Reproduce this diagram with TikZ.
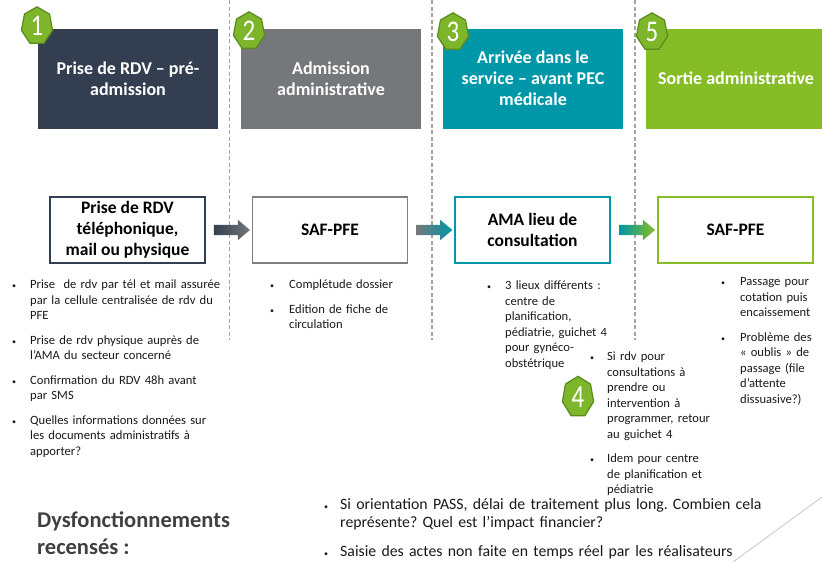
\documentclass[tikz,border=0pt]{standalone}
\usepackage{fontspec}
\setmainfont{Carlito}
\usepackage{enumitem}
\usetikzlibrary{shapes.geometric, shapes.arrows, calc, positioning}

\definecolor{navyHdr}{HTML}{333F50}
\definecolor{grayHdr}{HTML}{75777A}
\definecolor{grayEdge}{HTML}{7F7F7F}
\definecolor{tealHdr}{HTML}{0097A8}
\definecolor{greenHdr}{HTML}{86BC25}
\definecolor{badgeFill}{HTML}{7DB52B}
\definecolor{badgeLine}{HTML}{5A8A1C}
\definecolor{sepGray}{HTML}{A3A3A3}
\definecolor{titleGray}{HTML}{404040}

\setlist[itemize]{label={\fontsize{8}{8}\selectfont\textbullet}, leftmargin=21pt, labelsep=14pt, topsep=0pt, partopsep=0pt, parsep=0pt, itemsep=9pt}

\tikzset{
    hdrBox/.style={rectangle, fill=#1, text=white, align=center, minimum width=180pt, minimum height=100pt, inner sep=0pt, font=\bfseries\fontsize{18}{21}\selectfont},
    stepBox/.style={rectangle, draw=#1, line width=1.6pt, fill=white, align=center, minimum width=155pt, minimum height=66pt, inner sep=0pt, font=\bfseries\fontsize{17.5}{21}\selectfont},
    badge/.style={regular polygon, regular polygon sides=7, fill=badgeFill, draw=badgeLine, line width=1.2pt, minimum size=32pt, inner sep=0pt, text=white, font=\fontsize{25}{25}\selectfont, yscale=1.2, transform shape},
    flowArrow/.style 2 args={single arrow, left color=#1, right color=#2, draw=none, minimum height=36pt, inner xsep=0pt, inner ysep=5pt, single arrow head extend=5pt, single arrow tip angle=80},
    sepLine/.style={draw=sepGray, line width=1.6pt, dash pattern=on 4pt off 2.5pt},
    notes/.style={anchor=north west, inner sep=0pt, text width=#1, align=left, text=black!90, font=\fontsize{12.6}{15.5}\selectfont},
}

\begin{document}
\frenchspacing
\begin{tikzpicture}[x=1pt, y=-1pt]
    \useasboundingbox (0,0) rectangle (822,562);

    % separateurs entre les etapes
    \foreach \x/\n in {229.5/1, 432/2, 635/3} {
        \draw[sepLine] (\x,0) coordinate (sep\n top) -- (\x,340) coordinate (sep\n bot);
    }

    % bandeaux
    \node[hdrBox=navyHdr] (h1) at (128,78.5) {Prise de RDV – pré-\\admission};
    \node[hdrBox=grayHdr] (h2) at (331,78.5) {Admission\\administrative};
    \node[hdrBox=tealHdr] (h3) at (533,78.5) {Arrivée dans le\\service – avant PEC\\médicale};
    \node[hdrBox=greenHdr] (h5) at (736,78.5) {Sortie administrative};

    \node[badge] (b1) at (37,26) {1};
    \node[badge] (b2) at (249,31) {2};
    \node[badge] (b3) at (453,32) {3};
    \node[badge] (b5) at (652,32) {5};

    % etapes
    \node[stepBox=navyHdr, line width=2pt] (s1) at (127.5,230) {Prise de RDV\\téléphonique,\\mail ou physique};
    \node[stepBox=grayEdge] (s2) at (330,230) {SAF-PFE};
    \node[stepBox=tealHdr] (s3) at (532.5,230) {AMA lieu de\\consultation};
    \node[stepBox=greenHdr] (s4) at (735.5,230) {SAF-PFE};

    \node[flowArrow={navyHdr}{grayHdr}] (a1) at ($(s1.east)!0.5!(s2.west)$) {};
    \node[flowArrow={grayHdr}{tealHdr}] (a2) at ($(s2.east)!0.5!(s3.west)$) {};
    \node[flowArrow={tealHdr}{greenHdr}] (a3) at ($(s3.east)!0.5!(s4.west)$) {};

    % commentaires
    \node[notes=230pt] (n1) at (9,273) {\begin{itemize}
        \item Prise~ de rdv par tél et mail assurée\\par la cellule centralisée de rdv du\\PFE
        \item Prise de rdv physique auprès de\\l’AMA du secteur concerné
        \item Confirmation du RDV 48h avant\\par SMS
        \item Quelles informations données sur\\les documents administratifs à\\apporter?
    \end{itemize}};
    \node[notes=160pt] (n2) at (267,273) {\begin{itemize}[leftmargin=22pt, labelsep=15pt]
        \item Complétude dossier
        \item Edition de fiche de\\circulation
    \end{itemize}};
    \node[notes=140pt] (n3) at (484,274) {\begin{itemize}
        \item 3 lieux différents :\\centre de\\planification,\\pédiatrie, guichet 4\\pour gynéco-\\obstétrique
    \end{itemize}};
    \node[badge, yscale=1.08] (b4) at (578,397) {4};
    \node[notes=130pt] (n4) at (587,345) {\begin{itemize}[leftmargin=20pt, labelsep=13pt]
        \item Si rdv pour\\consultations à\\prendre ou\\intervention à\\programmer, retour\\au guichet 4
        \item Idem pour centre\\de planification et\\pédiatrie
    \end{itemize}};
    \node[notes=100pt] (n5) at (718,270) {\begin{itemize}[leftmargin=22pt, labelsep=15pt]
        \item Passage pour\\cotation puis\\encaissement
        \item Problème des\\« oublis » de\\passage (file\\d’attente\\dissuasive?)
    \end{itemize}};

    % dysfonctionnements
    \node[anchor=north west, inner sep=0pt, align=left, text=titleGray, font=\bfseries\fontsize{22.5}{27}\selectfont] (dysf) at (37,511) {Dysfonctionnements\\recensés :};
    \node[notes=480pt, font=\fontsize{15.8}{18}\selectfont] (n6) at (322,491) {\begin{itemize}[leftmargin=18pt, labelsep=12pt, itemsep=11pt]
        \item Si orientation PASS, délai de traitement plus long. Combien cela\\représente? Quel est l’impact financier?
        \item Saisie des actes non faite en temps réel par les réalisateurs
    \end{itemize}};

    \coordinate (diagA) at (822,497);
    \coordinate (diagB) at (733,562);
    \draw[gray!45, line width=0.8pt] (diagA) -- (diagB);

\end{tikzpicture}
\end{document}
